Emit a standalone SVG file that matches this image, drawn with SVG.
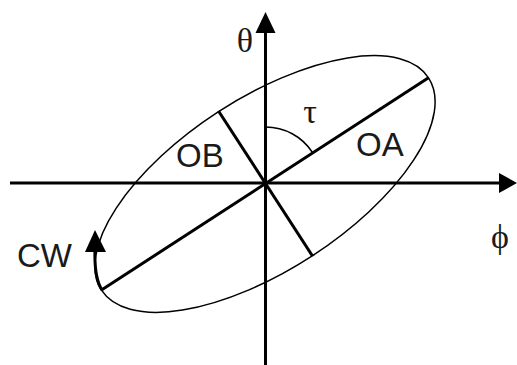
<svg xmlns="http://www.w3.org/2000/svg" width="517" height="365" viewBox="0 0 517 365">
<style>
.ax{stroke:#000;stroke-width:3;fill:none}
.thin{stroke:#000;stroke-width:1.5;fill:none}
.lbl{font-family:"Liberation Sans",Arial,sans-serif;font-size:33px;fill:#1a1a1a}
.grk{font-family:"Liberation Serif","DejaVu Serif",serif;font-size:34px;fill:#1a1a1a}
</style>
<rect width="517" height="365" fill="#fff"/>
<g id="connectors">
<line class="ax" x1="10" y1="183" x2="502" y2="183"/>
<polygon points="517,183 499,173 499,193" fill="#000"/>
<line class="ax" x1="265.5" y1="365" x2="265.5" y2="30"/>
<polygon points="265.5,12 255.5,33 275.5,33" fill="#000"/>
<line class="ax" x1="101.5" y1="290" x2="428.5" y2="77.8"/>
<line class="ax" stroke-width="2.5" x1="218.5" y1="111" x2="312.5" y2="256"/>
<path class="thin" d="M265.5,127 A56,56 0 0 1 312.5,152.5"/>
<path class="ax" stroke-width="2.5" d="M95,248 Q94,278 102,290"/>
<polygon points="95,230 85,252 106,252" fill="#000"/>
</g>
<g id="ellipse">
<ellipse class="thin" cx="265" cy="184" rx="195" ry="86" transform="rotate(-33 265 184)"/>
</g>
<g id="labels">
<text class="grk" x="245" y="52" text-anchor="middle">θ</text>
<text class="grk" x="310" y="123" text-anchor="middle">τ</text>
<text class="grk" x="500" y="248" text-anchor="middle">ϕ</text>
<text class="lbl" x="356" y="156">OA</text>
<text class="lbl" x="176" y="167">OB</text>
<text class="lbl" x="17" y="267">CW</text>
</g>
</svg>
